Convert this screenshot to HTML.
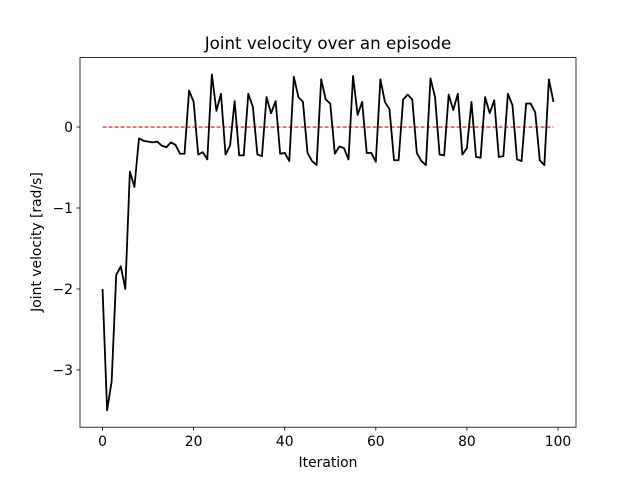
<!DOCTYPE html>
<html><head><meta charset="utf-8"><style>body{margin:0;background:#fff}svg{display:block;font-family:"DejaVu Sans","Liberation Sans",sans-serif}</style></head>
<body>
<svg id="chart" width="640" height="480">
<rect width="640" height="480" fill="#fff"/>
<text x="328" y="49" font-size="16.7" text-anchor="middle">Joint velocity over an episode</text>
<g id="xt"></g>
<g id="yt"></g>
<text x="328" y="467" font-size="13.9" text-anchor="middle">Iteration</text>
<text x="0" y="0" font-size="13.9" text-anchor="middle" transform="translate(41,242) rotate(-90)">Joint velocity [rad/s]</text>
<path id="ref" fill="none" stroke="#d01010" stroke-width="1.1" stroke-dasharray="4,2"/>
<path id="line" fill="none" stroke="#000" stroke-width="1.8" stroke-linejoin="round"/>
<rect x="80" y="57.6" width="496" height="369.6" fill="none" stroke="#000" stroke-width="0.8"/>
</svg>
<script>
const velocity=[-2.0,-3.5,-3.14,-1.83,-1.72,-2.0,-0.55,-0.74,-0.14,-0.17,-0.18,-0.19,-0.18,-0.23,-0.25,-0.19,-0.22,-0.33,-0.33,0.45,0.31,-0.34,-0.31,-0.40,0.65,0.20,0.41,-0.34,-0.23,0.32,-0.35,-0.35,0.41,0.25,-0.34,-0.36,0.37,0.17,0.32,-0.33,-0.32,-0.42,0.62,0.37,0.31,-0.32,-0.42,-0.47,0.59,0.34,0.29,-0.33,-0.24,-0.26,-0.40,0.63,0.15,0.31,-0.32,-0.32,-0.43,0.59,0.31,0.22,-0.41,-0.41,0.34,0.40,0.34,-0.32,-0.42,-0.47,0.60,0.37,-0.34,-0.35,0.40,0.21,0.41,-0.34,-0.26,0.31,-0.37,-0.38,0.37,0.17,0.33,-0.37,-0.36,0.41,0.27,-0.40,-0.42,0.29,0.29,0.18,-0.41,-0.47,0.59,0.31];
const xTicks=[0,20,40,60,80,100];
const yTicks=[0,-1,-2,-3];
const refLevel=0;
const NS="http://www.w3.org/2000/svg";
const L=80,R=576,T=57.6,B=427.2;
const n=velocity.length;
const xmin=-0.05*(n-1),xmax=(n-1)*1.05;
const vmin=Math.min(...velocity,refLevel),vmax=Math.max(...velocity,refLevel),pad=(vmax-vmin)*0.05;
const ymin=vmin-pad,ymax=vmax+pad;
const X=v=>L+(v-xmin)/(xmax-xmin)*(R-L);
const Y=v=>B-(v-ymin)/(ymax-ymin)*(B-T);
function mk(tag,attrs,parent){const e=document.createElementNS(NS,tag);for(const k in attrs)e.setAttribute(k,attrs[k]);parent.appendChild(e);return e;}
document.getElementById('line').setAttribute('d',velocity.map((v,i)=>(i?'L':'M')+X(i)+' '+Y(v)).join(' '));
document.getElementById('ref').setAttribute('d','M'+X(0)+' '+Y(refLevel)+' L'+X(n-1)+' '+Y(refLevel));
const xg=document.getElementById('xt'),yg=document.getElementById('yt');
xTicks.forEach(t=>{const l=mk('line',{x1:X(t),x2:X(t),y1:B,y2:B+3.5,stroke:'#000','stroke-width':0.8},xg);


const tx=mk('text',{x:X(t),y:B+19,'font-size':13.9,'text-anchor':'middle'},xg);tx.textContent=t;

});
yTicks.forEach(t=>{const l=mk('line',{x1:L-3.5,x2:L,y1:Y(t),y2:Y(t),stroke:'#000','stroke-width':0.8},yg);


const tx=mk('text',{x:L-7,y:Y(t)+5,'font-size':13.9,'text-anchor':'end'},yg);tx.textContent=t<0?'\u2212'+(-t):t;

});
</script>
</body></html>
